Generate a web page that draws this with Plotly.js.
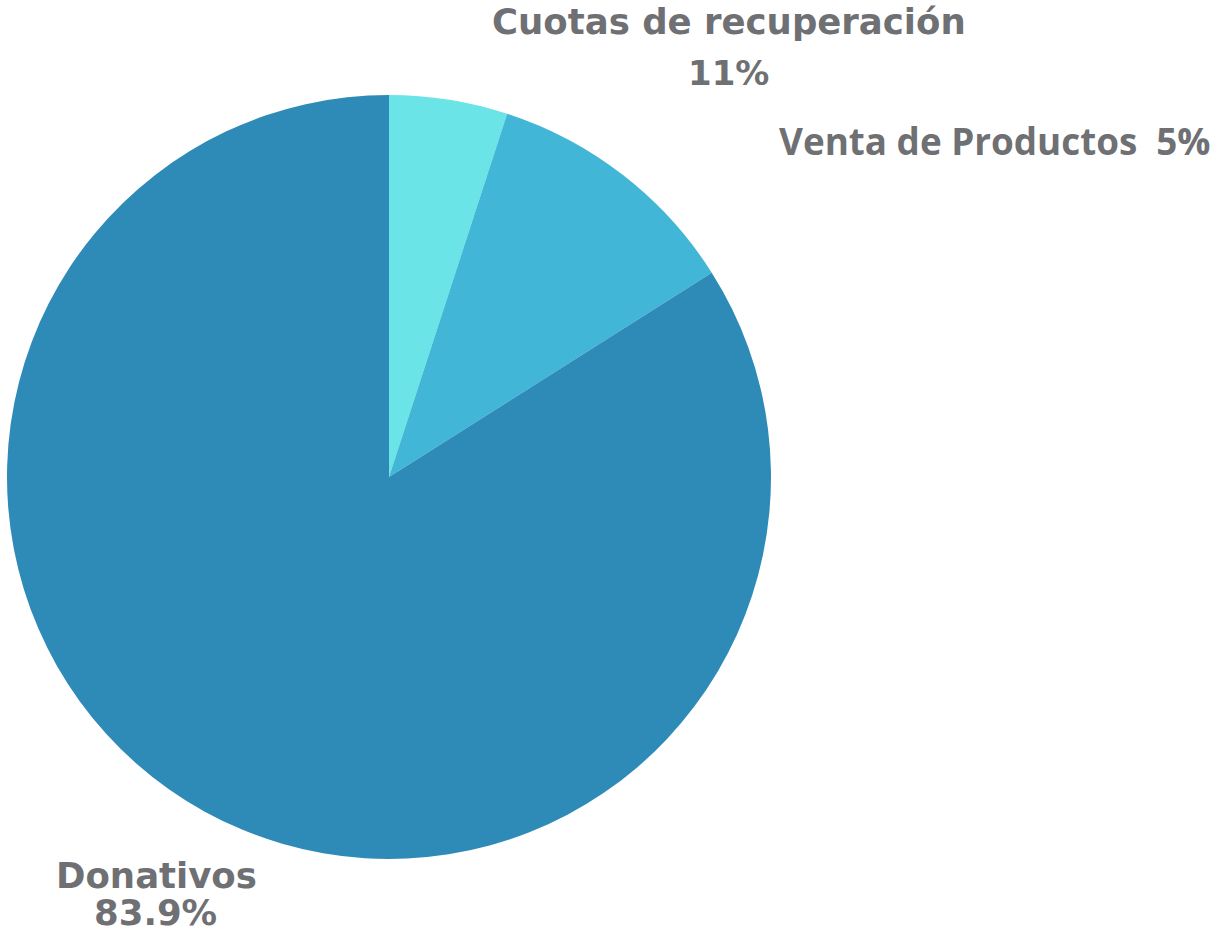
<!DOCTYPE html>
<html>
<head>
<meta charset="utf-8">
<script src="https://cdn.plot.ly/plotly-3.0.1.min.js"></script>
<style>html,body{margin:0;padding:0;background:#fff;}#chart{width:1213px;height:941px;}</style>
</head>
<body>
<div id="chart"></div>
<script>
const categories = ["Venta de Productos", "Cuotas de recuperación", "Donativos"];
const values = [5, 11, 83.9];
const percentLabels = ["5%", "11%", "83.9%"];
const colors = ["#6ae4e7", "#42b6d6", "#2e8bb8"];

const W = 1213, H = 941;
const px = x => x / W;
const py = y => 1 - y / H;

const textColor = "#6f7073";
const montFont = {family: "DejaVu Sans", size: 35.5, color: textColor, weight: 700};
const pctFont = {family: "DejaVu Sans", size: 34, color: textColor, weight: 700};
const openFont = {family: "Open Sans", size: 36.8, color: textColor, weight: 700};

const annotations = [
  {x: px(729), y: py(21.5), text: "<b>" + categories[1] + "</b>", font: montFont, xanchor: "center", yanchor: "middle"},
  {x: px(728), y: py(72.5), text: "<b>" + percentLabels[1] + "</b>", font: pctFont, xanchor: "center", yanchor: "middle"},
  {x: px(777), y: py(141), text: "<b>" + categories[0] + "\u00a0 " + percentLabels[0] + "</b>", font: openFont, xanchor: "left", yanchor: "middle"},
  {x: px(156), y: py(875), text: "<b>" + categories[2] + "</b>", font: montFont, xanchor: "center", yanchor: "middle", height: 34, valign: "middle"},
  {x: px(155), y: py(911.5), text: "<b>" + percentLabels[2] + "</b>", font: montFont, xanchor: "center", yanchor: "middle", height: 34, valign: "middle"}
].map(a => Object.assign({xref: "paper", yref: "paper", showarrow: false}, a));

const data = [{
  type: "pie",
  labels: categories,
  values: values,
  sort: false,
  direction: "clockwise",
  rotation: 0,
  marker: {colors: colors, line: {width: 0}},
  textinfo: "none",
  hoverinfo: "label+percent",
  showlegend: false,
  domain: {x: [px(7), px(771)], y: [py(859), py(95)]}
}];

const layout = {
  width: W, height: H,
  margin: {l: 0, r: 0, t: 0, b: 0},
  paper_bgcolor: "#ffffff",
  plot_bgcolor: "#ffffff",
  showlegend: false,
  annotations: annotations
};

Plotly.newPlot("chart", data, layout, {displayModeBar: false, staticPlot: true});
</script>
</body>
</html>
